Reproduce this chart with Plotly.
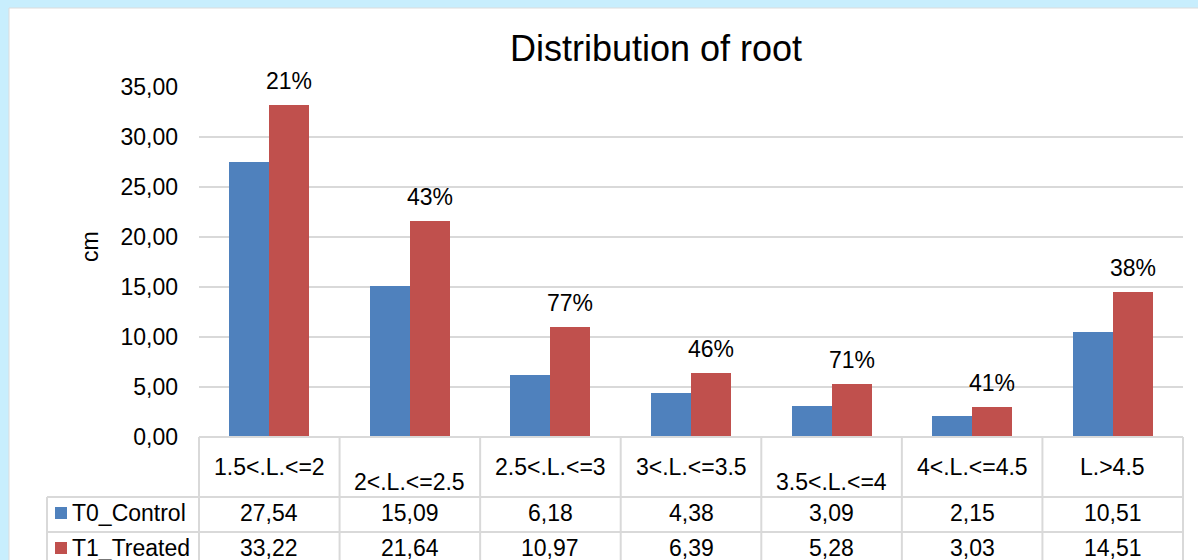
import plotly.graph_objects as go

categories = ["1.5<.L.<=2", "2<.L.<=2.5", "2.5<.L.<=3", "3<.L.<=3.5", "3.5<.L.<=4", "4<.L.<=4.5", "L.>4.5"]
control = [27.54, 15.09, 6.18, 4.38, 3.09, 2.15, 10.51]
treated = [33.22, 21.64, 10.97, 6.39, 5.28, 3.03, 14.51]
increase_labels = ["21%", "43%", "77%", "46%", "71%", "41%", "38%"]
series_names = ["T0_Control", "T1_Treated"]
y_ticks = [0, 5, 10, 15, 20, 25, 30, 35]

W, H = 1198, 560
L, R, T, B = 199, 1183, 87, 437
BLUE, RED = "#4f81bd", "#c0504d"
GRID = "#d9d9d9"
FONT = "Liberation Sans, Arial, sans-serif"
FS = 23

def px(x):
    return (x - L) / (R - L)

def py(y):
    return (B - y) / (B - T)

def fmt(v):
    return f"{v:.2f}".replace(".", ",")

n = len(categories)
xs = list(range(n))
bw = 0.285

fig = go.Figure()
fig.add_trace(go.Bar(x=xs, y=control, name=series_names[0], width=bw, offset=-bw,
                     marker=dict(color=BLUE, line=dict(width=0)), showlegend=False))
fig.add_trace(go.Bar(x=xs, y=treated, name=series_names[1], width=bw, offset=0,
                     marker=dict(color=RED, line=dict(width=0)), showlegend=False))

shapes = []
ann = []

# white chart area on light blue page
shapes.append(dict(type="rect", xref="paper", yref="paper", layer="below",
                   x0=px(9), x1=px(W + 5), y0=py(8), y1=py(H + 20),
                   fillcolor="white", line=dict(color="#dcdcdc", width=1)))

# percentage labels above treated bars
for i, (v, lab) in enumerate(zip(treated, increase_labels)):
    ann.append(dict(x=i + bw / 2, y=v, xref="x", yref="y", text=lab, showarrow=False,
                    yanchor="middle", yshift=24, font=dict(family=FONT, size=FS, color="black")))

# table lines
col_w = (R - L) / n
line_style = dict(color=GRID, width=2)
shapes.append(dict(type="line", xref="paper", yref="paper", x0=px(L), x1=px(R), y0=py(B), y1=py(B), line=line_style))
for yy in (497, 532):
    shapes.append(dict(type="line", xref="paper", yref="paper", x0=px(47), x1=px(R), y0=py(yy), y1=py(yy), line=line_style))
shapes.append(dict(type="line", xref="paper", yref="paper", x0=px(47), x1=px(47), y0=py(497), y1=py(H + 10), line=line_style))
for k in range(n + 1):
    xx = L + k * col_w
    shapes.append(dict(type="line", xref="paper", yref="paper", x0=px(xx), x1=px(xx), y0=py(B), y1=py(H + 10), line=line_style))

# header labels (Excel wraps some lower)
header_y = [467, 482, 467, 467, 482, 467, 467]
for i, c in enumerate(categories):
    ann.append(dict(x=px(L + (i + 0.5) * col_w), y=py(header_y[i]), xref="paper", yref="paper",
                    text=c, showarrow=False, xanchor="center", yanchor="middle",
                    font=dict(family=FONT, size=FS, color="black")))

# data rows
row_y = [513, 548]
for r, (name, vals, col) in enumerate(zip(series_names, [control, treated], [BLUE, RED])):
    yc = row_y[r]
    shapes.append(dict(type="rect", xref="paper", yref="paper", x0=px(55), x1=px(67),
                       y0=py(yc - 6), y1=py(yc + 6), fillcolor=col, line=dict(width=0)))
    ann.append(dict(x=px(70), y=py(yc), xref="paper", yref="paper", text=name, showarrow=False,
                    xanchor="left", yanchor="middle", font=dict(family=FONT, size=FS, color="black")))
    for i, v in enumerate(vals):
        ann.append(dict(x=px(L + (i + 0.5) * col_w), y=py(yc), xref="paper", yref="paper",
                        text=fmt(v), showarrow=False, xanchor="center", yanchor="middle",
                        font=dict(family=FONT, size=FS, color="black")))

# y axis title
ann.append(dict(x=px(90), y=py(247), xref="paper", yref="paper", text="cm", showarrow=False,
                textangle=-90, xanchor="center", yanchor="middle",
                font=dict(family=FONT, size=FS, color="black")))

fig.update_layout(
    width=W, height=H,
    margin=dict(l=L, r=W - R, t=T, b=H - B, pad=0),
    paper_bgcolor="#c8eefd",
    plot_bgcolor="white",
    separators=",.",
    title=dict(text="Distribution of root", x=656 / W, xref="container", xanchor="center",
               y=1 - 48 / H, yref="container", yanchor="middle",
               font=dict(family=FONT, size=36, color="black")),
    xaxis=dict(range=[-0.5, n - 0.5], showticklabels=False, showgrid=False, zeroline=False,
               showline=False, ticks=""),
    yaxis=dict(range=[0, 35], tickvals=y_ticks, tickformat=".2f", showgrid=True, gridcolor=GRID,
               gridwidth=2, zeroline=False, showline=False, ticks="", ticklabelstandoff=20,
               tickfont=dict(family=FONT, size=FS, color="black")),
    shapes=shapes,
    annotations=ann,
    bargap=0,
)

fig.write_html("out.html", config={"displayModeBar": False},
               post_script="document.body.style.margin='0';document.body.style.overflow='hidden';")
